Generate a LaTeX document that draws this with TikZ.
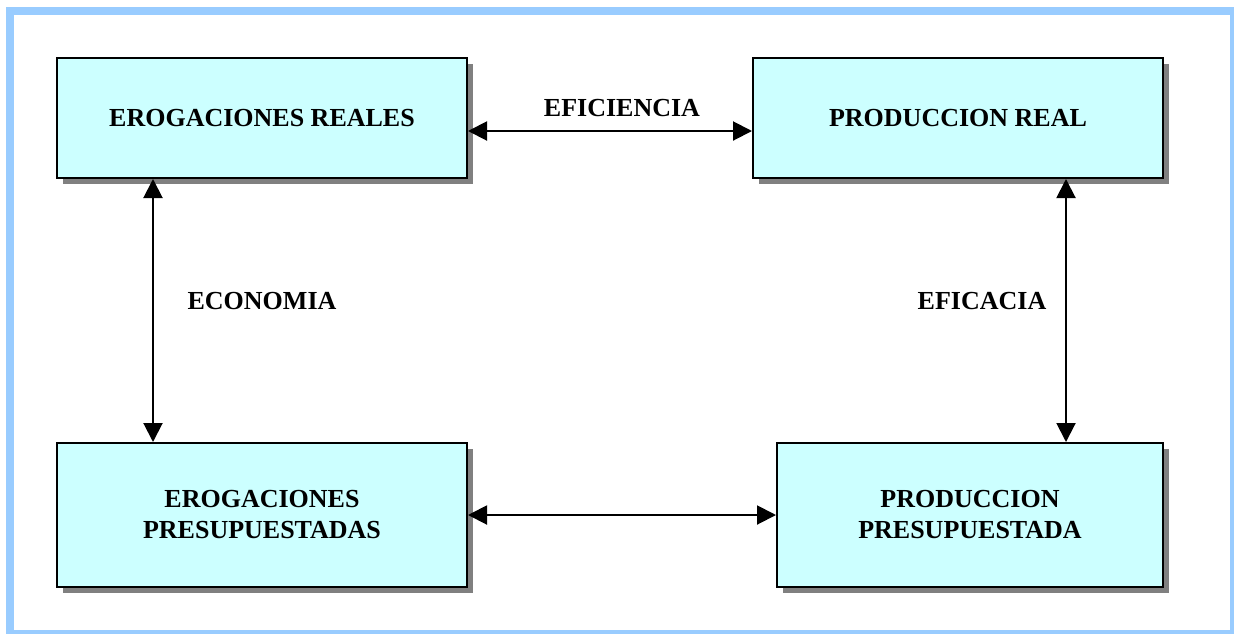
\documentclass[tikz,border=0pt]{standalone}
\usepackage{fontspec}
\setmainfont{Liberation Serif}
\usetikzlibrary{arrows.meta, shadows}
\definecolor{boxbg}{RGB}{204,255,255}
\definecolor{framecol}{RGB}{153,204,255}
\definecolor{shadowgray}{RGB}{128,128,128}

\begin{document}
\begin{tikzpicture}[
        x=1pt, y=-1pt,
        box/.style={draw, line width=2pt, fill=boxbg, align=center,
                    minimum width=410pt, minimum height=120pt,
                    font=\bfseries\fontsize{26}{31}\selectfont,
                    general shadow={fill=shadowgray, shadow xshift=6pt, shadow yshift=-6pt}},
        tallbox/.style={box, minimum height=144pt},
        lbl/.style={font=\bfseries\fontsize{26}{31}\selectfont, inner sep=0pt},
        arrow/.style={{Triangle[length=19pt,width=19pt]}-{Triangle[length=19pt,width=19pt]},
                      line width=2pt},
    ]

    \useasboundingbox (0,0) rectangle (1234,633);

    % outer frame
    \draw[framecol, line width=8pt] (10,11) rectangle (1234,634);

    % ---------- boxes ----------------------------------------------------
    \node[box] (realexp)  at (262,118) {EROGACIONES REALES};
    \node[box] (realprod) at (958,118) {PRODUCCION REAL};
    \node[tallbox] (budexp)  at (262,515) {EROGACIONES\\PRESUPUESTADAS};
    \node[tallbox, minimum width=386pt] (budprod) at (970,515) {PRODUCCION\\PRESUPUESTADA};

    % ---------- labels ---------------------------------------------------
    \node[lbl] (eficiencia) at (622,108) {EFICIENCIA};
    \node[lbl] (economia)   at (262,301) {ECONOMIA};
    \node[lbl] (eficacia)   at (982,301) {EFICACIA};

    % ---------- connectors -----------------------------------------------
    \draw[arrow] ([yshift=-13pt]realexp.east) -- ([yshift=-13pt]realprod.west);
    \draw[arrow] ([xshift=-109pt]realexp.south) -- ([xshift=-109pt]budexp.north);
    \draw[arrow] ([xshift=108pt]realprod.south) -- ([xshift=96pt]budprod.north);
    \draw[arrow] (budexp.east) -- (budprod.west);

\end{tikzpicture}
\end{document}
